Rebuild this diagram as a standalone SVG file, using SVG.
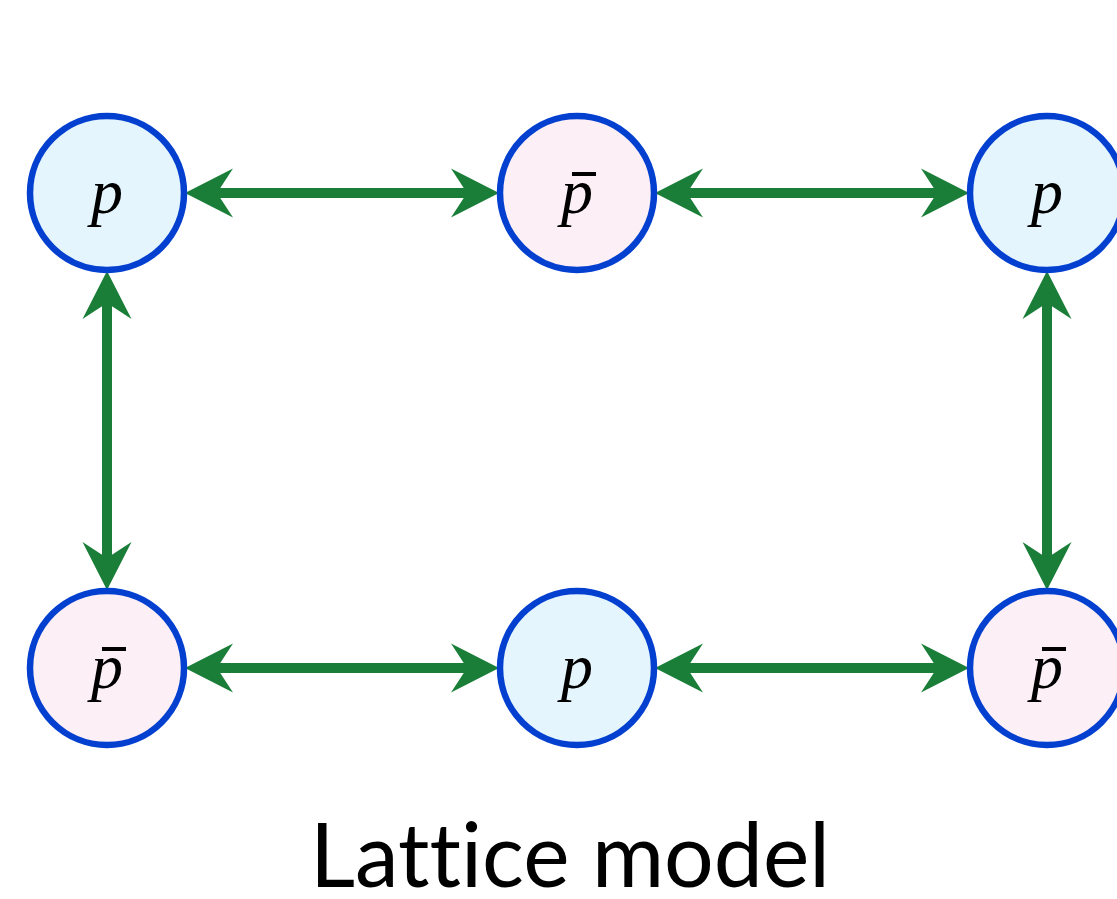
<svg xmlns="http://www.w3.org/2000/svg" width="1117" height="899" viewBox="0 0 1117 899">
<style>
.n{stroke:#0340d0;stroke-width:6.5}
.a{fill:#e4f5fd}
.b{fill:#fdeff6}
.t{font-family:"Liberation Serif",serif;font-style:italic;font-size:64px;fill:#000;text-anchor:middle}
.c{stroke:#1b7e38;stroke-width:10;fill:none;marker-start:url(#h);marker-end:url(#h)}
.bar{fill:#000}
.title{font-family:Lato,"Open Sans",sans-serif;font-size:90px;fill:#000;text-anchor:middle;font-variant-ligatures:none;font-feature-settings:"liga" 0}
</style>
<defs>
<marker id="h" markerUnits="userSpaceOnUse" orient="auto-start-reverse" viewBox="-25 -30 60 60" markerWidth="60" markerHeight="60" refX="0" refY="0" overflow="visible">
<path d="M28,0 L-20,-24.5 L-4,0 L-20,24.5 Z" fill="#1b7e38"/>
</marker>
</defs>
<rect width="1117" height="899" fill="#fff"/>
<g id="connectors">
<line class="c" x1="213" y1="193" x2="471" y2="193"/>
<line class="c" x1="683" y1="193" x2="941" y2="193"/>
<line class="c" x1="213" y1="668" x2="471" y2="668"/>
<line class="c" x1="683" y1="668" x2="941" y2="668"/>
<line class="c" x1="107" y1="299" x2="107" y2="562"/>
<line class="c" x1="1047" y1="299" x2="1047" y2="562"/>
</g>
<g id="n1"><circle class="n a" cx="107" cy="193" r="77"/><text class="t" x="107" y="213">p</text></g>
<g id="n2"><circle class="n b" cx="577" cy="193" r="77"/><text class="t" x="577" y="213">p</text><rect class="bar" x="572" y="172" width="24" height="4"/></g>
<g id="n3"><circle class="n a" cx="1047" cy="193" r="77"/><text class="t" x="1047" y="213">p</text></g>
<g id="n4"><circle class="n b" cx="107" cy="668" r="77"/><text class="t" x="107" y="688">p</text><rect class="bar" x="102" y="647" width="24" height="4"/></g>
<g id="n5"><circle class="n a" cx="577" cy="668" r="77"/><text class="t" x="577" y="688">p</text></g>
<g id="n6"><circle class="n b" cx="1047" cy="668" r="77"/><text class="t" x="1047" y="688">p</text><rect class="bar" x="1042" y="647" width="24" height="4"/></g>
<text class="title" x="570" y="887" textLength="520" lengthAdjust="spacingAndGlyphs">Lattice model</text>
</svg>
